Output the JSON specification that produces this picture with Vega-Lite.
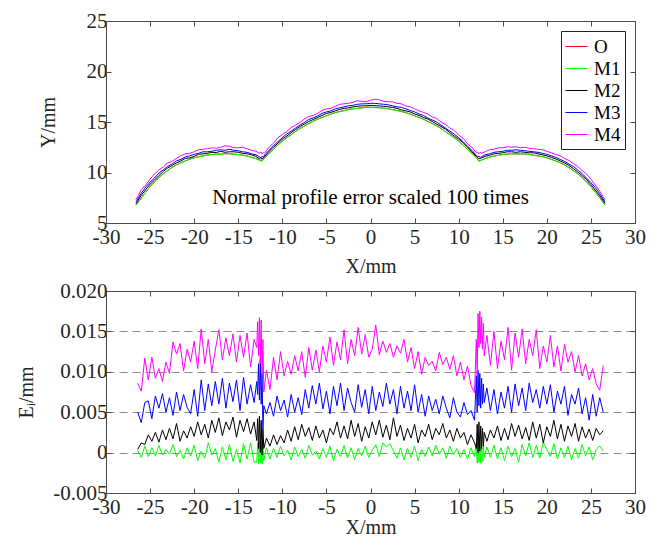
{
"$schema": "https://vega.github.io/schema/vega-lite/v6.json",
"padding": {"left": 16, "top": 10, "right": 5, "bottom": 0},
"background": "white",
"spacing": 68,
"bounds": "flush",
"resolve": {"scale": {"color": "independent"}},
"config": {
 "font": "Liberation Serif",
 "view": {"stroke": null},
 "axis": {"labelFont": "Liberation Serif", "labelFontSize": 21, "labelColor": "#262626", "titleFont": "Liberation Serif", "titleFontSize": 20, "titleFontWeight": "normal", "titleColor": "#262626", "domainColor": "#4a4a4a", "domainWidth": 1, "tickColor": "#4a4a4a", "tickSize": -5, "grid": false, "labelFlush": false, "labelOverlap": false},
 "axisX": {"labelPadding": 8, "titlePadding": 0},
 "axisY": {"labelPadding": 4}
},
"vconcat": [
{
 "width": 529, "height": 202,
 "data": {"values": [
{"x":-26.6,"O":6.8,"M1":6.75,"M2":6.9,"M3":7.1,"M4":7.3},
{"x":-26,"O":7.5,"M1":7.45,"M2":7.75,"M3":7.95,"M4":8.3},
{"x":-25.5,"O":8.05,"M1":8.07,"M2":8.3,"M3":8.55,"M4":8.75},
{"x":-25,"O":8.6,"M1":8.6,"M2":8.85,"M3":9.05,"M4":9.35},
{"x":-24.5,"O":9.07,"M1":9.05,"M2":9.25,"M3":9.45,"M4":9.85},
{"x":-24,"O":9.5,"M1":9.52,"M2":9.7,"M3":9.95,"M4":10.25},
{"x":-23.5,"O":9.87,"M1":9.85,"M2":10.1,"M3":10.25,"M4":10.55},
{"x":-23,"O":10.2,"M1":10.18,"M2":10.45,"M3":10.6,"M4":10.95},
{"x":-22.5,"O":10.5,"M1":10.52,"M2":10.7,"M3":10.85,"M4":11.1},
{"x":-22,"O":10.75,"M1":10.77,"M2":10.95,"M3":11.15,"M4":11.4},
{"x":-21.5,"O":10.96,"M1":10.94,"M2":11.15,"M3":11.3,"M4":11.65},
{"x":-21,"O":11.15,"M1":11.13,"M2":11.4,"M3":11.55,"M4":11.85},
{"x":-20.5,"O":11.31,"M1":11.33,"M2":11.45,"M3":11.65,"M4":11.9},
{"x":-20,"O":11.45,"M1":11.47,"M2":11.6,"M3":11.8,"M4":12.05},
{"x":-19.5,"O":11.56,"M1":11.54,"M2":11.8,"M3":11.9,"M4":12.25},
{"x":-19,"O":11.65,"M1":11.63,"M2":11.85,"M3":12.05,"M4":12.3},
{"x":-18.5,"O":11.72,"M1":11.74,"M2":11.9,"M3":12.05,"M4":12.35},
{"x":-18,"O":11.78,"M1":11.8,"M2":12.0,"M3":12.1,"M4":12.45},
{"x":-17.5,"O":11.82,"M1":11.8,"M2":11.98,"M3":12.2,"M4":12.4},
{"x":-17,"O":11.84,"M1":11.82,"M2":12.1,"M3":12.25,"M4":12.5},
{"x":-16.5,"O":11.85,"M1":11.86,"M2":12.0,"M3":12.2,"M4":12.65},
{"x":-16,"O":11.85,"M1":11.87,"M2":12.05,"M3":12.3,"M4":12.6},
{"x":-15.5,"O":11.82,"M1":11.8,"M2":12.05,"M3":12.2,"M4":12.45},
{"x":-15,"O":11.78,"M1":11.76,"M2":12.0,"M3":12.15,"M4":12.45},
{"x":-14.5,"O":11.71,"M1":11.73,"M2":11.9,"M3":12.05,"M4":12.5},
{"x":-14,"O":11.62,"M1":11.64,"M2":11.85,"M3":12.0,"M4":12.35},
{"x":-13.5,"O":11.51,"M1":11.49,"M2":11.75,"M3":11.85,"M4":12.2},
{"x":-13,"O":11.38,"M1":11.36,"M2":11.6,"M3":11.75,"M4":12.1},
{"x":-12.6,"O":11.25,"M1":11.2,"M2":11.35,"M3":11.55,"M4":11.9},
{"x":-12.45,"O":11.2,"M1":11.15,"M2":11.5,"M3":11.45,"M4":12.05},
{"x":-12.3,"O":11.15,"M1":11.12,"M2":11.3,"M3":11.6,"M4":11.85},
{"x":-12.15,"O":11.3,"M1":11.28,"M2":11.45,"M3":11.5,"M4":12.0},
{"x":-12,"O":11.45,"M1":11.45,"M2":11.6,"M3":11.75,"M4":11.95},
{"x":-11.5,"O":11.9,"M1":11.88,"M2":12.1,"M3":12.2,"M4":12.5},
{"x":-11,"O":12.3,"M1":12.28,"M2":12.5,"M3":12.65,"M4":12.9},
{"x":-10.5,"O":12.72,"M1":12.74,"M2":12.9,"M3":13.05,"M4":13.45},
{"x":-10,"O":13.1,"M1":13.12,"M2":13.3,"M3":13.45,"M4":13.75},
{"x":-9.5,"O":13.44,"M1":13.42,"M2":13.6,"M3":13.8,"M4":14.05},
{"x":-9,"O":13.75,"M1":13.73,"M2":13.95,"M3":14.1,"M4":14.45},
{"x":-8.5,"O":14.06,"M1":14.08,"M2":14.25,"M3":14.4,"M4":14.7},
{"x":-8,"O":14.35,"M1":14.37,"M2":14.55,"M3":14.7,"M4":14.95},
{"x":-7.5,"O":14.61,"M1":14.59,"M2":14.8,"M3":14.95,"M4":15.3},
{"x":-7,"O":14.85,"M1":14.83,"M2":15.05,"M3":15.25,"M4":15.55},
{"x":-6.5,"O":15.07,"M1":15.09,"M2":15.25,"M3":15.4,"M4":15.65},
{"x":-6,"O":15.27,"M1":15.29,"M2":15.45,"M3":15.6,"M4":15.85},
{"x":-5.5,"O":15.45,"M1":15.43,"M2":15.65,"M3":15.85,"M4":16.15},
{"x":-5,"O":15.62,"M1":15.6,"M2":15.85,"M3":16.0,"M4":16.3},
{"x":-4.5,"O":15.78,"M1":15.8,"M2":15.95,"M3":16.1,"M4":16.35},
{"x":-4,"O":15.92,"M1":15.94,"M2":16.1,"M3":16.3,"M4":16.55},
{"x":-3.5,"O":16.04,"M1":16.02,"M2":16.25,"M3":16.4,"M4":16.75},
{"x":-3,"O":16.14,"M1":16.12,"M2":16.35,"M3":16.5,"M4":16.8},
{"x":-2.5,"O":16.23,"M1":16.25,"M2":16.4,"M3":16.6,"M4":16.85},
{"x":-2,"O":16.3,"M1":16.32,"M2":16.5,"M3":16.65,"M4":16.95},
{"x":-1.5,"O":16.36,"M1":16.34,"M2":16.55,"M3":16.75,"M4":17.1},
{"x":-1,"O":16.41,"M1":16.39,"M2":16.6,"M3":16.8,"M4":17.05},
{"x":-0.5,"O":16.44,"M1":16.46,"M2":16.6,"M3":16.8,"M4":17.0},
{"x":0,"O":16.45,"M1":16.47,"M2":16.65,"M3":16.85,"M4":17.15},
{"x":0.5,"O":16.44,"M1":16.42,"M2":16.6,"M3":16.85,"M4":17.25},
{"x":1,"O":16.41,"M1":16.4,"M2":16.6,"M3":16.8,"M4":17.2},
{"x":1.5,"O":16.36,"M1":16.38,"M2":16.55,"M3":16.75,"M4":17.05},
{"x":2,"O":16.3,"M1":16.31,"M2":16.5,"M3":16.7,"M4":17.0},
{"x":2.5,"O":16.23,"M1":16.21,"M2":16.45,"M3":16.6,"M4":17.0},
{"x":3,"O":16.14,"M1":16.13,"M2":16.35,"M3":16.5,"M4":16.85},
{"x":3.5,"O":16.04,"M1":16.06,"M2":16.2,"M3":16.45,"M4":16.8},
{"x":4,"O":15.92,"M1":15.94,"M2":16.1,"M3":16.3,"M4":16.6},
{"x":4.5,"O":15.78,"M1":15.76,"M2":16.0,"M3":16.15,"M4":16.5},
{"x":5,"O":15.62,"M1":15.6,"M2":15.8,"M3":16.0,"M4":16.3},
{"x":5.5,"O":15.45,"M1":15.47,"M2":15.65,"M3":15.8,"M4":16.1},
{"x":6,"O":15.27,"M1":15.29,"M2":15.45,"M3":15.65,"M4":15.95},
{"x":6.5,"O":15.07,"M1":15.05,"M2":15.3,"M3":15.4,"M4":15.8},
{"x":7,"O":14.85,"M1":14.83,"M2":15.05,"M3":15.2,"M4":15.5},
{"x":7.5,"O":14.61,"M1":14.63,"M2":14.8,"M3":15.0,"M4":15.35},
{"x":8,"O":14.35,"M1":14.37,"M2":14.55,"M3":14.7,"M4":15.0},
{"x":8.5,"O":14.06,"M1":14.04,"M2":14.3,"M3":14.4,"M4":14.75},
{"x":9,"O":13.75,"M1":13.73,"M2":13.95,"M3":14.1,"M4":14.4},
{"x":9.5,"O":13.44,"M1":13.46,"M2":13.6,"M3":13.8,"M4":14.15},
{"x":10,"O":13.1,"M1":13.12,"M2":13.3,"M3":13.45,"M4":13.7},
{"x":10.5,"O":12.72,"M1":12.7,"M2":12.95,"M3":13.05,"M4":13.4},
{"x":11,"O":12.3,"M1":12.28,"M2":12.5,"M3":12.6,"M4":12.85},
{"x":11.5,"O":11.9,"M1":11.92,"M2":12.05,"M3":12.2,"M4":12.5},
{"x":12,"O":11.45,"M1":11.45,"M2":11.6,"M3":11.7,"M4":11.95},
{"x":12.15,"O":11.3,"M1":11.28,"M2":11.5,"M3":11.55,"M4":12.05},
{"x":12.3,"O":11.15,"M1":11.12,"M2":11.35,"M3":11.6,"M4":11.85},
{"x":12.45,"O":11.2,"M1":11.17,"M2":11.4,"M3":11.5,"M4":12.0},
{"x":12.6,"O":11.25,"M1":11.22,"M2":11.45,"M3":11.55,"M4":11.9},
{"x":13,"O":11.38,"M1":11.37,"M2":11.6,"M3":11.75,"M4":12.05},
{"x":13.5,"O":11.51,"M1":11.53,"M2":11.7,"M3":11.85,"M4":12.25},
{"x":14,"O":11.62,"M1":11.63,"M2":11.85,"M3":12.0,"M4":12.3},
{"x":14.5,"O":11.71,"M1":11.69,"M2":11.9,"M3":12.05,"M4":12.45},
{"x":15,"O":11.78,"M1":11.77,"M2":11.95,"M3":12.1,"M4":12.45},
{"x":15.5,"O":11.82,"M1":11.84,"M2":12.05,"M3":12.2,"M4":12.55},
{"x":16,"O":11.85,"M1":11.87,"M2":12.05,"M3":12.2,"M4":12.5},
{"x":16.5,"O":11.85,"M1":11.83,"M2":12.0,"M3":12.25,"M4":12.55},
{"x":17,"O":11.84,"M1":11.82,"M2":12.05,"M3":12.2,"M4":12.45},
{"x":17.5,"O":11.82,"M1":11.84,"M2":12.0,"M3":12.15,"M4":12.5},
{"x":18,"O":11.78,"M1":11.8,"M2":11.95,"M3":12.1,"M4":12.4},
{"x":18.5,"O":11.72,"M1":11.7,"M2":11.95,"M3":12.05,"M4":12.35},
{"x":19,"O":11.65,"M1":11.63,"M2":11.85,"M3":12.0,"M4":12.3},
{"x":19.5,"O":11.56,"M1":11.58,"M2":11.75,"M3":11.9,"M4":12.25},
{"x":20,"O":11.45,"M1":11.47,"M2":11.65,"M3":11.8,"M4":12.1},
{"x":20.5,"O":11.31,"M1":11.29,"M2":11.5,"M3":11.65,"M4":11.95},
{"x":21,"O":11.15,"M1":11.13,"M2":11.35,"M3":11.5,"M4":11.8},
{"x":21.5,"O":10.96,"M1":10.98,"M2":11.15,"M3":11.3,"M4":11.65},
{"x":22,"O":10.75,"M1":10.77,"M2":10.95,"M3":11.1,"M4":11.4},
{"x":22.5,"O":10.5,"M1":10.48,"M2":10.7,"M3":10.85,"M4":11.2},
{"x":23,"O":10.2,"M1":10.18,"M2":10.4,"M3":10.6,"M4":10.9},
{"x":23.5,"O":9.87,"M1":9.89,"M2":10.05,"M3":10.25,"M4":10.6},
{"x":24,"O":9.5,"M1":9.52,"M2":9.7,"M3":9.9,"M4":10.2},
{"x":24.5,"O":9.07,"M1":9.05,"M2":9.3,"M3":9.45,"M4":9.85},
{"x":25,"O":8.6,"M1":8.58,"M2":8.8,"M3":9.0,"M4":9.35},
{"x":25.5,"O":8.05,"M1":8.07,"M2":8.25,"M3":8.5,"M4":8.75},
{"x":26,"O":7.5,"M1":7.52,"M2":7.7,"M3":7.9,"M4":8.15},
{"x":26.6,"O":6.8,"M1":6.75,"M2":6.95,"M3":7.1,"M4":7.3}
 ]},
 "layer": [
  {
   "transform": [{"fold": ["O","M1","M2","M3","M4"], "as": ["series","y"]}],
   "mark": {"type": "line", "strokeWidth": 1},
   "encoding": {
    "x": {"field": "x", "type": "quantitative", "scale": {"domain": [-30,30], "nice": false},
          "axis": {"orient": "bottom", "values": [-30,-25,-20,-15,-10,-5,0,5,10,15,20,25,30], "title": "X/mm", "titlePadding": 9, "labelFont": "Liberation Serif", "titleFont": "Liberation Serif", "labelExpr": "datum.value < 0 ? '-' + abs(datum.value) : '' + datum.value"}},
    "y": {"field": "y", "type": "quantitative", "scale": {"domain": [5,25], "nice": false, "zero": false},
          "axis": {"orient": "left", "values": [5,10,15,20,25], "title": "Y/mm", "titlePadding": 28, "labelFont": "Liberation Serif", "titleFont": "Liberation Serif"}},
    "color": {"field": "series", "type": "nominal",
              "scale": {"domain": ["O","M1","M2","M3","M4"], "range": ["#ff0000","#00ff00","#000000","#0000ff","#ff00ff"]},
              "legend": {"orient": "none", "legendX": 455, "legendY": 10, "title": null, "fillColor": "white", "strokeColor": "#222222", "padding": 4, "symbolType": "stroke", "symbolSize": 484, "symbolStrokeWidth": 1, "labelFont": "Liberation Serif", "labelFontSize": 19, "labelColor": "black", "labelOffset": 6, "rowPadding": 0}}
   }
  },
  {
   "data": {"values": [{"x": 0, "y": 7.5, "label": "Normal profile error scaled 100 times"}]},
   "mark": {"type": "text", "font": "Liberation Serif", "fontSize": 21, "align": "center", "baseline": "middle", "color": "black"},
   "encoding": {
    "x": {"field": "x", "type": "quantitative", "axis": {"orient": "top", "values": [-30,-25,-20,-15,-10,-5,0,5,10,15,20,25,30], "labels": false, "title": null}},
    "y": {"field": "y", "type": "quantitative", "axis": {"orient": "right", "values": [5,10,15,20,25], "labels": false, "title": null}},
    "text": {"field": "label"}
   }
  }
 ],
 "resolve": {"axis": {"x": "independent", "y": "independent"}}
},
{
 "width": 529, "height": 202,
 "data": {"values": [
{"x":-26.4,"M1":0.0003,"M2":0.0004,"M3":0.005,"M4":0.0086},
{"x":-26.0,"M1":-0.0006,"M2":0.0012,"M3":0.0037,"M4":0.0076},
{"x":-25.6,"M1":0.0008,"M2":0.001,"M3":0.0062,"M4":0.0117},
{"x":-25.2,"M1":-0.0005,"M2":0.0022,"M3":0.0064,"M4":0.009},
{"x":-24.8,"M1":0.0006,"M2":0.0014,"M3":0.0042,"M4":0.0118},
{"x":-24.4,"M1":-0.0004,"M2":0.0025,"M3":0.007,"M4":0.0092},
{"x":-24.0,"M1":0.0009,"M2":0.0013,"M3":0.0055,"M4":0.0104},
{"x":-23.6,"M1":-0.0003,"M2":0.0028,"M3":0.0073,"M4":0.0088},
{"x":-23.2,"M1":0.0004,"M2":0.0016,"M3":0.005,"M4":0.0112},
{"x":-22.8,"M1":-0.0002,"M2":0.003,"M3":0.0068,"M4":0.0098},
{"x":-22.4,"M1":0.001,"M2":0.0017,"M3":0.0046,"M4":0.0137},
{"x":-22.0,"M1":-0.0005,"M2":0.0036,"M3":0.0075,"M4":0.0122},
{"x":-21.6,"M1":0.0003,"M2":0.0014,"M3":0.0052,"M4":0.0135},
{"x":-21.2,"M1":-0.0008,"M2":0.0027,"M3":0.0072,"M4":0.0101},
{"x":-20.8,"M1":0.0006,"M2":0.0018,"M3":0.0056,"M4":0.0128},
{"x":-20.4,"M1":-0.0004,"M2":0.0032,"M3":0.0048,"M4":0.0112},
{"x":-20.0,"M1":0.0009,"M2":0.002,"M3":0.0078,"M4":0.0138},
{"x":-19.6,"M1":-0.001,"M2":0.0038,"M3":0.0045,"M4":0.0104},
{"x":-19.2,"M1":0.0002,"M2":0.0022,"M3":0.009,"M4":0.0153},
{"x":-18.8,"M1":-0.0007,"M2":0.0035,"M3":0.0052,"M4":0.011},
{"x":-18.4,"M1":0.0012,"M2":0.0018,"M3":0.0085,"M4":0.014},
{"x":-18.0,"M1":-0.0003,"M2":0.004,"M3":0.0058,"M4":0.01},
{"x":-17.6,"M1":0.0005,"M2":0.0025,"M3":0.0088,"M4":0.0127},
{"x":-17.2,"M1":-0.0012,"M2":0.0043,"M3":0.006,"M4":0.0152},
{"x":-16.8,"M1":0.0007,"M2":0.0021,"M3":0.0092,"M4":0.0115},
{"x":-16.4,"M1":-0.0009,"M2":0.0038,"M3":0.0055,"M4":0.0142},
{"x":-16.0,"M1":0.001,"M2":0.0028,"M3":0.0086,"M4":0.012},
{"x":-15.6,"M1":-0.0011,"M2":0.0044,"M3":0.0063,"M4":0.0147},
{"x":-15.2,"M1":0.0004,"M2":0.0019,"M3":0.009,"M4":0.0112},
{"x":-14.8,"M1":-0.0013,"M2":0.004,"M3":0.0052,"M4":0.0145},
{"x":-14.4,"M1":0.0011,"M2":0.0026,"M3":0.0093,"M4":0.0118},
{"x":-14.0,"M1":-0.0008,"M2":0.0042,"M3":0.006,"M4":0.0148},
{"x":-13.6,"M1":0.0012,"M2":0.0023,"M3":0.0084,"M4":0.0106},
{"x":-13.2,"M1":-0.0012,"M2":0.0038,"M3":0.0062,"M4":0.014},
{"x":-12.9,"M1":-0.0012,"M2":0.0015,"M3":0.0088,"M4":0.013},
{"x":-12.8,"M1":0.0012,"M2":0.0042,"M3":0.0072,"M4":0.0162},
{"x":-12.7,"M1":-0.0014,"M2":0.0005,"M3":0.011,"M4":0.012},
{"x":-12.6,"M1":0.0013,"M2":0.0045,"M3":0.0065,"M4":0.0167},
{"x":-12.5,"M1":-0.0013,"M2":0.0,"M3":0.0115,"M4":0.011},
{"x":-12.4,"M1":0.0011,"M2":0.004,"M3":0.006,"M4":0.0164},
{"x":-12.3,"M1":-0.0014,"M2":-0.0003,"M3":0.0098,"M4":0.0095},
{"x":-12.2,"M1":0.001,"M2":0.003,"M3":0.003,"M4":0.014},
{"x":-12.1,"M1":-0.001,"M2":0.0005,"M3":0.0058,"M4":0.0075},
{"x":-11.8,"M1":0.0006,"M2":0.0018,"M3":0.0048,"M4":0.0102},
{"x":-11.4,"M1":-0.0008,"M2":0.0008,"M3":0.0062,"M4":0.0078},
{"x":-11.0,"M1":0.0005,"M2":0.0022,"M3":0.0045,"M4":0.0118},
{"x":-10.6,"M1":-0.0006,"M2":0.001,"M3":0.007,"M4":0.009},
{"x":-10.2,"M1":0.0008,"M2":0.0021,"M3":0.0052,"M4":0.0125},
{"x":-9.8,"M1":-0.0004,"M2":0.0012,"M3":0.0065,"M4":0.0095},
{"x":-9.4,"M1":0.0003,"M2":0.0028,"M3":0.0044,"M4":0.0113},
{"x":-9.0,"M1":-0.0009,"M2":0.0014,"M3":0.0072,"M4":0.0097},
{"x":-8.6,"M1":0.0007,"M2":0.0032,"M3":0.005,"M4":0.012},
{"x":-8.2,"M1":-0.0005,"M2":0.0016,"M3":0.0068,"M4":0.0101},
{"x":-7.8,"M1":0.0004,"M2":0.0035,"M3":0.0047,"M4":0.0125},
{"x":-7.4,"M1":-0.0007,"M2":0.002,"M3":0.0078,"M4":0.0093},
{"x":-7.0,"M1":0.0009,"M2":0.0031,"M3":0.0055,"M4":0.013},
{"x":-6.6,"M1":-0.0003,"M2":0.0015,"M3":0.0083,"M4":0.0102},
{"x":-6.2,"M1":0.0002,"M2":0.0033,"M3":0.006,"M4":0.0127},
{"x":-5.8,"M1":-0.0008,"M2":0.0018,"M3":0.0086,"M4":0.01},
{"x":-5.4,"M1":0.0005,"M2":0.0028,"M3":0.0054,"M4":0.0132},
{"x":-5.0,"M1":-0.0006,"M2":0.0012,"M3":0.0076,"M4":0.0112},
{"x":-4.6,"M1":0.0008,"M2":0.003,"M3":0.0048,"M4":0.0143},
{"x":-4.2,"M1":-0.001,"M2":0.0022,"M3":0.0082,"M4":0.0108},
{"x":-3.8,"M1":0.0004,"M2":0.0038,"M3":0.0058,"M4":0.0137},
{"x":-3.4,"M1":-0.0005,"M2":0.0018,"M3":0.0086,"M4":0.0115},
{"x":-3.0,"M1":0.0009,"M2":0.0033,"M3":0.0052,"M4":0.0152},
{"x":-2.6,"M1":-0.0007,"M2":0.0017,"M3":0.008,"M4":0.011},
{"x":-2.2,"M1":0.0006,"M2":0.004,"M3":0.0062,"M4":0.014},
{"x":-1.8,"M1":-0.0009,"M2":0.002,"M3":0.005,"M4":0.012},
{"x":-1.4,"M1":0.0005,"M2":0.0036,"M3":0.0084,"M4":0.0155},
{"x":-1.0,"M1":-0.0004,"M2":0.0014,"M3":0.0056,"M4":0.0122},
{"x":-0.6,"M1":0.0008,"M2":0.0032,"M3":0.0078,"M4":0.0146},
{"x":-0.2,"M1":-0.0006,"M2":0.0018,"M3":0.0048,"M4":0.0118},
{"x":0.2,"M1":0.0003,"M2":0.0038,"M3":0.0082,"M4":0.0128},
{"x":0.6,"M1":0.001,"M2":0.0022,"M3":0.0052,"M4":0.0158},
{"x":1.0,"M1":-0.0005,"M2":0.004,"M3":0.0075,"M4":0.0121},
{"x":1.4,"M1":0.0012,"M2":0.0019,"M3":0.0057,"M4":0.0138},
{"x":1.8,"M1":0.0007,"M2":0.0034,"M3":0.0086,"M4":0.0124},
{"x":2.2,"M1":0.0011,"M2":0.0016,"M3":0.006,"M4":0.0135},
{"x":2.6,"M1":0.0002,"M2":0.0043,"M3":0.0078,"M4":0.0118},
{"x":3.0,"M1":-0.0007,"M2":0.002,"M3":0.0048,"M4":0.0132},
{"x":3.4,"M1":0.0006,"M2":0.0034,"M3":0.0082,"M4":0.0123},
{"x":3.8,"M1":-0.0009,"M2":0.0015,"M3":0.0055,"M4":0.014},
{"x":4.2,"M1":0.0005,"M2":0.003,"M3":0.0076,"M4":0.0112},
{"x":4.6,"M1":-0.0006,"M2":0.0018,"M3":0.0052,"M4":0.013},
{"x":5.0,"M1":0.0008,"M2":0.0035,"M3":0.0084,"M4":0.0104},
{"x":5.4,"M1":-0.001,"M2":0.0012,"M3":0.005,"M4":0.0125},
{"x":5.8,"M1":0.0004,"M2":0.0028,"M3":0.0072,"M4":0.0097},
{"x":6.2,"M1":-0.0005,"M2":0.002,"M3":0.0045,"M4":0.0118},
{"x":6.6,"M1":0.0007,"M2":0.0035,"M3":0.007,"M4":0.0108},
{"x":7.0,"M1":-0.0004,"M2":0.0016,"M3":0.0052,"M4":0.0113},
{"x":7.4,"M1":0.0009,"M2":0.003,"M3":0.0066,"M4":0.0101},
{"x":7.8,"M1":-0.0002,"M2":0.0022,"M3":0.0048,"M4":0.0124},
{"x":8.2,"M1":0.0006,"M2":0.0036,"M3":0.007,"M4":0.0109},
{"x":8.6,"M1":-0.0007,"M2":0.0018,"M3":0.0055,"M4":0.0118},
{"x":9.0,"M1":0.0008,"M2":0.0028,"M3":0.0043,"M4":0.0103},
{"x":9.4,"M1":-0.0003,"M2":0.0014,"M3":0.0068,"M4":0.012},
{"x":9.8,"M1":0.0005,"M2":0.003,"M3":0.005,"M4":0.0095},
{"x":10.2,"M1":-0.0006,"M2":0.0018,"M3":0.0044,"M4":0.0112},
{"x":10.6,"M1":0.0004,"M2":0.0025,"M3":0.0062,"M4":0.009},
{"x":11.0,"M1":-0.0008,"M2":0.001,"M3":0.0047,"M4":0.0107},
{"x":11.4,"M1":0.0006,"M2":0.0022,"M3":0.0052,"M4":0.0083},
{"x":11.8,"M1":-0.0005,"M2":0.0012,"M3":0.004,"M4":0.0074},
{"x":12.0,"M1":0.0012,"M2":0.0005,"M3":0.0095,"M4":0.014},
{"x":12.1,"M1":-0.0013,"M2":0.0035,"M3":0.005,"M4":0.0095},
{"x":12.2,"M1":0.0013,"M2":0.0,"M3":0.0102,"M4":0.0172},
{"x":12.3,"M1":-0.0012,"M2":0.0038,"M3":0.0058,"M4":0.013},
{"x":12.4,"M1":0.0011,"M2":0.0002,"M3":0.0098,"M4":0.0175},
{"x":12.5,"M1":-0.0013,"M2":0.0033,"M3":0.0055,"M4":0.0135},
{"x":12.6,"M1":0.001,"M2":0.0005,"M3":0.0092,"M4":0.0168},
{"x":12.7,"M1":-0.0011,"M2":0.003,"M3":0.006,"M4":0.0128},
{"x":12.8,"M1":0.0009,"M2":0.0008,"M3":0.0085,"M4":0.016},
{"x":12.9,"M1":-0.0006,"M2":0.0025,"M3":0.0062,"M4":0.012},
{"x":13.2,"M1":0.0007,"M2":0.0014,"M3":0.008,"M4":0.0145},
{"x":13.6,"M1":-0.0006,"M2":0.0028,"M3":0.0052,"M4":0.0108},
{"x":14.0,"M1":0.0009,"M2":0.0018,"M3":0.0078,"M4":0.015},
{"x":14.4,"M1":-0.0008,"M2":0.0033,"M3":0.0048,"M4":0.0104},
{"x":14.8,"M1":0.0006,"M2":0.0015,"M3":0.0075,"M4":0.0138},
{"x":15.2,"M1":-0.001,"M2":0.003,"M3":0.0055,"M4":0.0115},
{"x":15.6,"M1":0.0008,"M2":0.0016,"M3":0.0082,"M4":0.0155},
{"x":16.0,"M1":-0.0005,"M2":0.0036,"M3":0.005,"M4":0.0102},
{"x":16.4,"M1":0.0005,"M2":0.002,"M3":0.0085,"M4":0.0148},
{"x":16.8,"M1":-0.0012,"M2":0.0034,"M3":0.0058,"M4":0.0118},
{"x":17.2,"M1":0.001,"M2":0.0017,"M3":0.008,"M4":0.0153},
{"x":17.6,"M1":-0.0004,"M2":0.0031,"M3":0.0052,"M4":0.011},
{"x":18.0,"M1":0.0012,"M2":0.0015,"M3":0.0086,"M4":0.014},
{"x":18.4,"M1":-0.0006,"M2":0.0038,"M3":0.0062,"M4":0.012},
{"x":18.8,"M1":0.0009,"M2":0.0018,"M3":0.0078,"M4":0.0152},
{"x":19.2,"M1":-0.0007,"M2":0.0035,"M3":0.0055,"M4":0.0104},
{"x":19.6,"M1":0.0013,"M2":0.0012,"M3":0.0082,"M4":0.0132},
{"x":20.0,"M1":0.0004,"M2":0.0032,"M3":0.006,"M4":0.0112},
{"x":20.4,"M1":-0.0005,"M2":0.002,"M3":0.0084,"M4":0.0145},
{"x":20.8,"M1":0.0011,"M2":0.004,"M3":0.005,"M4":0.0106},
{"x":21.2,"M1":-0.0008,"M2":0.0017,"M3":0.0076,"M4":0.0132},
{"x":21.6,"M1":0.0006,"M2":0.0035,"M3":0.006,"M4":0.0101},
{"x":22.0,"M1":-0.0006,"M2":0.0014,"M3":0.0082,"M4":0.0134},
{"x":22.4,"M1":0.0008,"M2":0.0033,"M3":0.0046,"M4":0.0112},
{"x":22.8,"M1":-0.0009,"M2":0.002,"M3":0.0072,"M4":0.0125},
{"x":23.2,"M1":0.0005,"M2":0.0036,"M3":0.006,"M4":0.01},
{"x":23.6,"M1":-0.0007,"M2":0.0014,"M3":0.008,"M4":0.012},
{"x":24.0,"M1":0.001,"M2":0.0032,"M3":0.0048,"M4":0.0095},
{"x":24.4,"M1":-0.0004,"M2":0.0018,"M3":0.0068,"M4":0.011},
{"x":24.8,"M1":0.0007,"M2":0.0029,"M3":0.004,"M4":0.009},
{"x":25.2,"M1":-0.0009,"M2":0.0015,"M3":0.0072,"M4":0.0104},
{"x":25.6,"M1":0.0004,"M2":0.003,"M3":0.0045,"M4":0.0085},
{"x":26.0,"M1":0.0008,"M2":0.0022,"M3":0.0068,"M4":0.0077},
{"x":26.4,"M1":0.0002,"M2":0.0027,"M3":0.005,"M4":0.0108}
 ]},
 "transform": [{"fold": ["M1","M2","M3","M4"], "as": ["series","e"]}],
 "layer": [
  {
   "mark": {"type": "line", "strokeWidth": 1},
   "encoding": {
    "x": {"field": "x", "type": "quantitative", "scale": {"domain": [-30,30], "nice": false},
          "axis": {"orient": "bottom", "values": [-30,-25,-20,-15,-10,-5,0,5,10,15,20,25,30], "title": "X/mm", "labelFont": "Liberation Serif", "titleFont": "Liberation Serif", "labelExpr": "datum.value < 0 ? '-' + abs(datum.value) : '' + datum.value"}},
    "y": {"field": "e", "type": "quantitative", "scale": {"domain": [-0.005,0.02], "nice": false, "zero": false},
          "axis": {"orient": "left", "values": [-0.005,0,0.005,0.01,0.015,0.02], "title": "Eᵢ/mm", "titlePadding": 16, "labelFont": "Liberation Serif", "titleFont": "Liberation Serif", "grid": true, "gridDash": [8,5], "gridColor": "#8c8c8c", "gridWidth": 1,
                   "labelExpr": "datum.value == 0 ? '0' : (datum.value < 0 ? '-' : '') + format(abs(datum.value), '.3f')"}},
    "color": {"field": "series", "type": "nominal",
              "scale": {"domain": ["M1","M2","M3","M4"], "range": ["#00ff00","#000000","#0000ff","#ff00ff"]},
              "legend": null}
   }
  },
  {
   "mark": {"type": "line", "opacity": 0},
   "encoding": {
    "x": {"field": "x", "type": "quantitative", "axis": {"orient": "top", "values": [-30,-25,-20,-15,-10,-5,0,5,10,15,20,25,30], "labels": false, "title": null}},
    "y": {"field": "e", "type": "quantitative", "axis": {"orient": "right", "values": [-0.005,0,0.005,0.01,0.015,0.02], "labels": false, "title": null}},
    "detail": {"field": "series", "type": "nominal"}
   }
  }
 ],
 "resolve": {"axis": {"x": "independent", "y": "independent"}}
}
]
}
